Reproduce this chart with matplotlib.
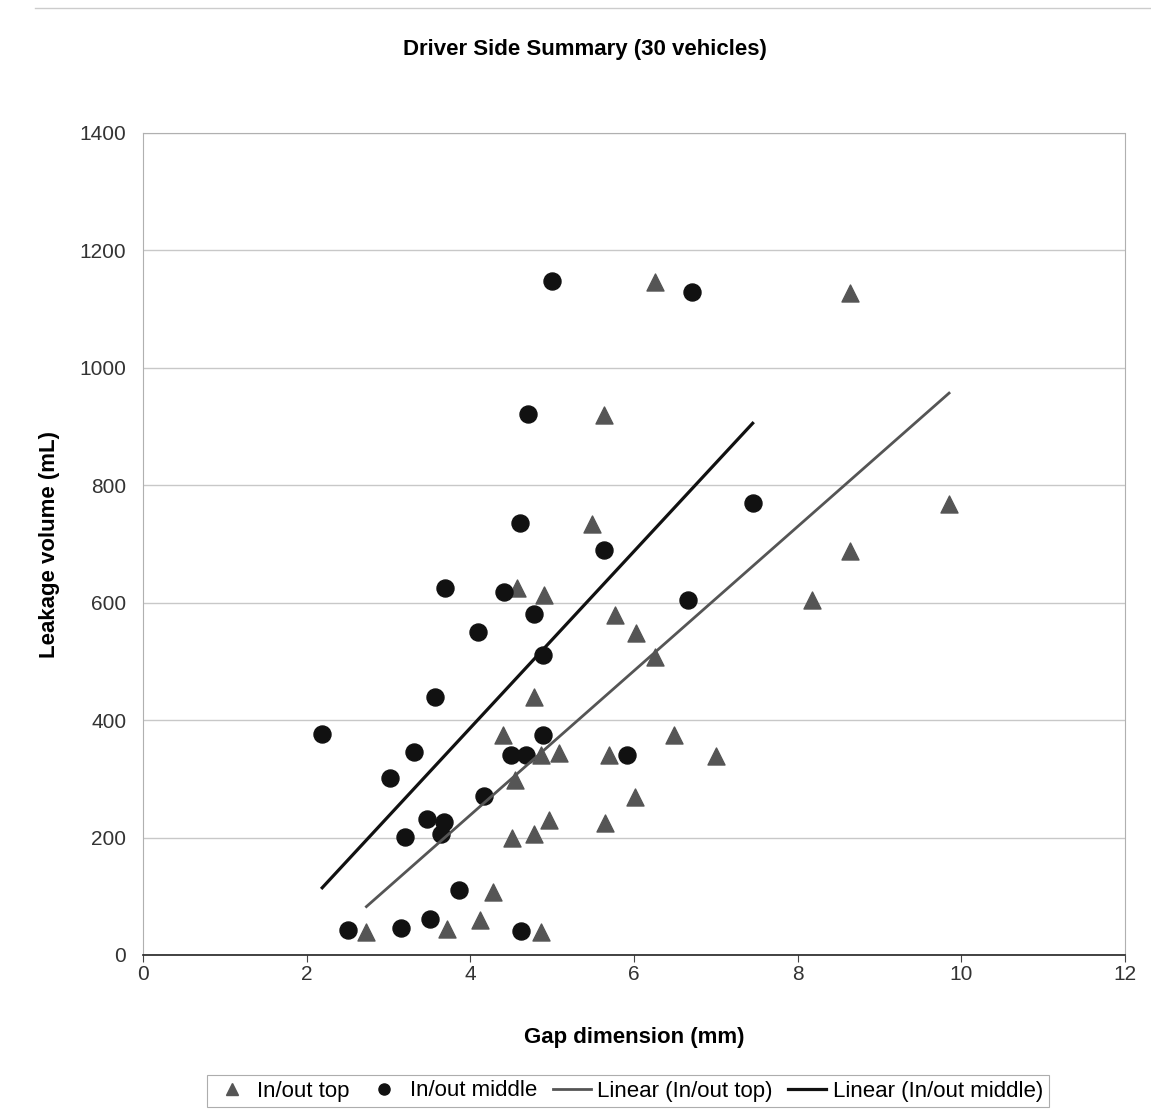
import numpy as np
import matplotlib
matplotlib.use('Agg')
import matplotlib.pyplot as plt
from matplotlib.lines import Line2D

plt.rcParams['font.family'] = ['Liberation Sans', 'DejaVu Sans']

# In/out top (triangles)
top_gap = [2.73, 3.71, 4.12, 4.28, 4.86, 4.40, 4.55, 4.51, 4.78, 4.96,
           5.08, 4.86, 4.78, 4.57, 4.90, 5.49, 5.63, 5.77, 6.03, 6.26,
           5.69, 5.65, 6.01, 6.49, 7.00, 6.26, 8.64, 9.85, 8.18, 8.64]
top_leak = [39, 45, 60, 107, 39, 375, 298, 199, 206, 230,
            344, 340, 440, 625, 613, 734, 920, 579, 548, 508,
            340, 225, 269, 375, 339, 1146, 1128, 768, 605, 688]

# In/out middle (circles)
mid_gap = [2.19, 2.51, 3.02, 3.15, 3.20, 3.31, 3.47, 3.51, 3.57, 3.64,
           3.68, 3.69, 3.86, 4.09, 4.17, 4.41, 4.50, 4.62, 4.61, 4.68,
           4.70, 4.78, 4.89, 4.89, 5.00, 5.63, 5.92, 6.66, 6.71, 7.45]
mid_leak = [376, 43, 301, 46, 201, 346, 232, 61, 439, 206,
            227, 625, 111, 550, 271, 618, 341, 41, 736, 341,
            921, 581, 375, 511, 1148, 690, 341, 605, 1129, 770]

top_col = '#555555'
mid_col = '#111111'

fig = plt.figure(figsize=(11.51, 11.14), dpi=100)
ax = fig.add_axes([143 / 1151, 1 - 955 / 1114, 982 / 1151, 822 / 1114])

ax.set_xlim(0, 12)
ax.set_ylim(0, 1400)
ax.set_xticks(np.arange(0, 13, 2))
ax.set_yticks(np.arange(0, 1401, 200))
ax.yaxis.grid(True, color='#c8c8c8', lw=1)
ax.set_axisbelow(True)

ax.scatter(top_gap, top_leak, marker='^', s=150, color=top_col, zorder=3)
ax.scatter(mid_gap, mid_leak, marker='o', s=150, color=mid_col, zorder=3)

# linear trend lines (least squares, like Excel)
for gx, gy, c, w in [(top_gap, top_leak, top_col, 2.0), (mid_gap, mid_leak, mid_col, 2.3)]:
    k, b = np.polyfit(gx, gy, 1)
    xs = np.array([min(gx), max(gx)])
    ax.plot(xs, k * xs + b, color=c, lw=w, zorder=4)

for s in ['top', 'right', 'left']:
    ax.spines[s].set_color('#b0b0b0')
    ax.spines[s].set_linewidth(0.8)
ax.spines['top'].set_linestyle((0, (1, 1)))
ax.spines['bottom'].set_color('#222222')
ax.spines['bottom'].set_linewidth(1.2)
ax.tick_params(axis='x', direction='out', length=5, color='#444444', labelsize=15,
               labelcolor='#333333', pad=2)
ax.tick_params(axis='y', length=0, labelsize=15, labelcolor='#333333', pad=12)

ax.set_xlabel('Gap dimension (mm)', fontsize=16, fontweight='bold', labelpad=31)
ax.set_ylabel('Leakage volume (mL)', fontsize=16, fontweight='bold', labelpad=14)

fig.text(585 / 1151, 1 - 50 / 1114, 'Driver Side Summary (30 vehicles)', ha='center',
         va='center', fontsize=16, fontweight='bold')

# faint outer border line at the top
fig.add_artist(Line2D([35 / 1151, 1], [1 - 8 / 1114, 1 - 8 / 1114], color='#cccccc', lw=1))

handles = [
    Line2D([], [], marker='^', ls='none', color=top_col, markersize=8),
    Line2D([], [], marker='o', ls='none', color=mid_col, markersize=8),
    Line2D([], [], color=top_col, lw=2),
    Line2D([], [], color=mid_col, lw=2.3),
]
labels = ['In/out top', 'In/out middle', 'Linear (In/out top)', 'Linear (In/out middle)']
leg = fig.legend(handles, labels, loc='center', bbox_to_anchor=(628 / 1151, 1 - 1091 / 1114),
                 ncol=4, fontsize=16, frameon=True, fancybox=False, handlelength=1.7,
                 handletextpad=0.3, columnspacing=0.7, borderpad=0.25)
leg.get_frame().set_edgecolor('#999999')
leg.get_frame().set_linewidth(0.8)

fig.savefig('out.png', dpi=100, facecolor='white')
